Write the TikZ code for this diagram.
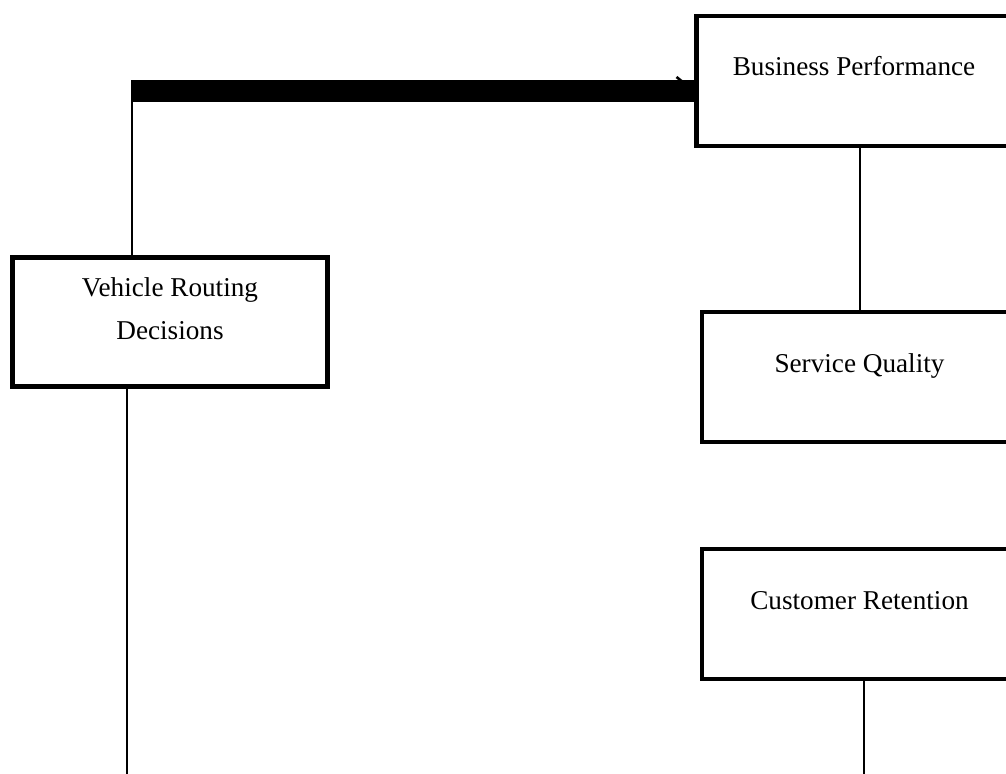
\documentclass[tikz,border=0pt]{standalone}
\usepackage{fontspec}
\setmainfont{Liberation Serif}
\usetikzlibrary{positioning}
\tikzset{
blockbox/.style={draw=black,line width=2.2pt,inner sep=0pt,outer sep=0pt,anchor=north west,
minimum width=157.5pt,align=center,text height=30pt,text depth=35pt,
font=\fontsize{13.6}{21.3}\selectfont},
link/.style={draw=black,line width=1pt},
heavylink/.style={draw=black,line width=11pt},
tickline/.style={draw=black,line width=1.3pt}
}

\begin{document}
\begin{tikzpicture}[x=0.5pt,y=-0.5pt]
\useasboundingbox (0,0) rectangle (1006,773);
\clip (0,0) rectangle (1006,773);
% boxes
\node[blockbox,text height=40.9pt,text depth=23.6pt] (vrd) at (12.5,257.5) {Vehicle Routing\\Decisions};
\node[blockbox] (bp) at (696.5,15.8) {Business Performance};
\node[blockbox] (sq) at (702,312) {Service Quality};
\node[blockbox] (cr) at (702,549) {Customer Retention};
% free ends
\coordinate (turn) at (132,91);
\coordinate (vrdend) at (127,780);
\coordinate (crend) at (864,780);
% connectors
\draw[link] (turn |- vrd.north) -- (turn);
\draw[heavylink] (131,91) -- (bp.west |- turn);
\draw[tickline] (bp.west |- turn) ++(-20,-14) -- ++(5,4);
\draw[link] (sq.north |- bp.south) -- (sq.north);
\draw[link] (vrd.south -| vrdend) -- (vrdend);
\draw[link] (cr.south -| crend) -- (crend);
\end{tikzpicture}
\end{document}
